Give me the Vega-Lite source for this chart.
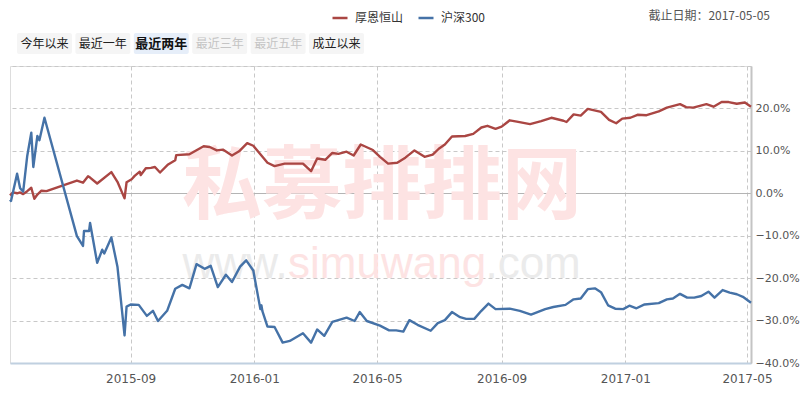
{
  "$schema": "https://vega.github.io/schema/vega-lite/v6.json",
  "padding": {"left": 8, "top": 9, "right": 0, "bottom": 0},
  "background": "white",
  "bounds": "flush",
  "config": {"view": {"stroke": null}, "font": "Noto Sans CJK SC"},
  "spacing": 12,
  "vconcat": [
    {
      "width": 741,
      "height": 21,
      "title": {"text": "截止日期：2017-05-05", "anchor": "end", "frame": "group", "orient": "top", "dx": 19, "offset": 10, "fontSize": 12, "fontWeight": "normal", "color": "#555555", "font": "Noto Sans CJK SC"},
      "data": {"values": [
        {"label": "今年以来", "state": "normal"},
        {"label": "最近一年", "state": "normal"},
        {"label": "最近两年", "state": "active"},
        {"label": "最近三年", "state": "disabled"},
        {"label": "最近五年", "state": "disabled"},
        {"label": "成立以来", "state": "normal"}
      ]},
      "encoding": {
        "x": {"field": "label", "type": "nominal", "sort": null,
              "scale": {"domain": ["今年以来", "最近一年", "最近两年", "最近三年", "最近五年", "成立以来"], "range": [7, 354], "paddingInner": 0.06, "paddingOuter": 0},
              "axis": null}
      },
      "layer": [
        {"transform": [{"filter": "datum.state !== 'active'"}], "mark": {"type": "rect", "color": "#f5f5f5", "cornerRadius": 2}},
        {"transform": [{"filter": "datum.state === 'active'"}], "mark": {"type": "rect", "color": "#e6eef9", "cornerRadius": 2}},
        {"transform": [{"filter": "datum.state === 'normal'"}], "mark": {"type": "text", "color": "#222222", "fontSize": 12, "font": "Noto Sans CJK SC", "baseline": "middle"}, "encoding": {"text": {"field": "label"}}},
        {"transform": [{"filter": "datum.state === 'disabled'"}], "mark": {"type": "text", "color": "#c4c4c4", "fontSize": 12, "font": "Noto Sans CJK SC", "baseline": "middle"}, "encoding": {"text": {"field": "label"}}},
        {"transform": [{"filter": "datum.state === 'active'"}], "mark": {"type": "text", "color": "#111111", "fontSize": 13, "fontWeight": "bold", "font": "Noto Sans CJK SC", "baseline": "middle"}, "encoding": {"text": {"field": "label"}}}
      ]
    },
    {
      "width": 741,
      "height": 297,
      "view": {"stroke": "#dddddd"},
      "layer": [
        {
          "data": {"values": [{}]},
          "mark": {"type": "text", "text": "私募排排网", "font": "Noto Sans CJK SC", "fontWeight": "bold", "fontSize": 80, "color": "#fde3e3", "align": "center", "baseline": "middle"},
          "encoding": {
            "x": {"datum": {"year": 2016, "month": 5, "date": 6, "utc": true}, "type": "temporal", "title": null},
            "y": {"datum": 1.2, "type": "quantitative", "title": null}
          }
        },
        {
          "data": {"values": [{}]},
          "mark": {"type": "text", "text": "www.", "font": "Liberation Sans", "fontSize": 44, "color": "#ebebeb", "align": "right", "baseline": "alphabetic"},
          "encoding": {
            "x": {"datum": {"year": 2016, "month": 2, "date": 3, "utc": true}, "type": "temporal", "title": null},
            "y": {"datum": -20, "type": "quantitative", "title": null}
          }
        },
        {
          "data": {"values": [{}]},
          "mark": {"type": "text", "text": "simuwang", "font": "Liberation Sans", "fontSize": 44, "color": "#fde3e3", "align": "center", "baseline": "alphabetic"},
          "encoding": {
            "x": {"datum": {"year": 2016, "month": 5, "date": 11, "utc": true}, "type": "temporal", "title": null},
            "y": {"datum": -20, "type": "quantitative", "title": null}
          }
        },
        {
          "data": {"values": [{}]},
          "mark": {"type": "text", "text": ".com", "font": "Liberation Sans", "fontSize": 44, "color": "#ebebeb", "align": "left", "baseline": "alphabetic"},
          "encoding": {
            "x": {"datum": {"year": 2016, "month": 8, "date": 16, "utc": true}, "type": "temporal", "title": null},
            "y": {"datum": -20, "type": "quantitative", "title": null}
          }
        },
        {
          "data": {"values": [
            {"date": "2015-05-05", "value": -0.5, "series": "厚恩恒山"},
            {"date": "2015-05-08", "value": 0.2, "series": "厚恩恒山"},
            {"date": "2015-05-12", "value": 0.0, "series": "厚恩恒山"},
            {"date": "2015-05-15", "value": 0.2, "series": "厚恩恒山"},
            {"date": "2015-05-18", "value": -0.2, "series": "厚恩恒山"},
            {"date": "2015-05-22", "value": 0.5, "series": "厚恩恒山"},
            {"date": "2015-05-26", "value": 1.3, "series": "厚恩恒山"},
            {"date": "2015-05-29", "value": -1.3, "series": "厚恩恒山"},
            {"date": "2015-06-01", "value": -0.3, "series": "厚恩恒山"},
            {"date": "2015-06-05", "value": 0.6, "series": "厚恩恒山"},
            {"date": "2015-06-10", "value": 0.5, "series": "厚恩恒山"},
            {"date": "2015-07-10", "value": 3.0, "series": "厚恩恒山"},
            {"date": "2015-07-16", "value": 2.5, "series": "厚恩恒山"},
            {"date": "2015-07-21", "value": 4.0, "series": "厚恩恒山"},
            {"date": "2015-07-23", "value": 3.7, "series": "厚恩恒山"},
            {"date": "2015-07-30", "value": 2.3, "series": "厚恩恒山"},
            {"date": "2015-08-13", "value": 5.0, "series": "厚恩恒山"},
            {"date": "2015-08-19", "value": 2.7, "series": "厚恩恒山"},
            {"date": "2015-08-26", "value": -1.2, "series": "厚恩恒山"},
            {"date": "2015-08-28", "value": 2.6, "series": "厚恩恒山"},
            {"date": "2015-09-02", "value": 3.3, "series": "厚恩恒山"},
            {"date": "2015-09-05", "value": 4.1, "series": "厚恩恒山"},
            {"date": "2015-09-10", "value": 5.1, "series": "厚恩恒山"},
            {"date": "2015-09-11", "value": 4.3, "series": "厚恩恒山"},
            {"date": "2015-09-16", "value": 5.9, "series": "厚恩恒山"},
            {"date": "2015-09-21", "value": 6.0, "series": "厚恩恒山"},
            {"date": "2015-09-25", "value": 6.2, "series": "厚恩恒山"},
            {"date": "2015-09-30", "value": 4.9, "series": "厚恩恒山"},
            {"date": "2015-10-08", "value": 6.8, "series": "厚恩恒山"},
            {"date": "2015-10-15", "value": 7.8, "series": "厚恩恒山"},
            {"date": "2015-10-16", "value": 9.0, "series": "厚恩恒山"},
            {"date": "2015-10-29", "value": 9.2, "series": "厚恩恒山"},
            {"date": "2015-11-12", "value": 11.1, "series": "厚恩恒山"},
            {"date": "2015-11-18", "value": 10.9, "series": "厚恩恒山"},
            {"date": "2015-11-25", "value": 10.1, "series": "厚恩恒山"},
            {"date": "2015-12-01", "value": 10.3, "series": "厚恩恒山"},
            {"date": "2015-12-10", "value": 8.9, "series": "厚恩恒山"},
            {"date": "2015-12-17", "value": 9.9, "series": "厚恩恒山"},
            {"date": "2015-12-25", "value": 11.8, "series": "厚恩恒山"},
            {"date": "2015-12-31", "value": 11.2, "series": "厚恩恒山"},
            {"date": "2016-01-07", "value": 9.2, "series": "厚恩恒山"},
            {"date": "2016-01-14", "value": 7.2, "series": "厚恩恒山"},
            {"date": "2016-01-21", "value": 6.4, "series": "厚恩恒山"},
            {"date": "2016-01-31", "value": 7.0, "series": "厚恩恒山"},
            {"date": "2016-02-18", "value": 7.0, "series": "厚恩恒山"},
            {"date": "2016-02-26", "value": 5.2, "series": "厚恩恒山"},
            {"date": "2016-03-03", "value": 8.2, "series": "厚恩恒山"},
            {"date": "2016-03-11", "value": 7.9, "series": "厚恩恒山"},
            {"date": "2016-03-18", "value": 9.5, "series": "厚恩恒山"},
            {"date": "2016-03-24", "value": 9.3, "series": "厚恩恒山"},
            {"date": "2016-04-01", "value": 9.8, "series": "厚恩恒山"},
            {"date": "2016-04-08", "value": 8.9, "series": "厚恩恒山"},
            {"date": "2016-04-15", "value": 11.5, "series": "厚恩恒山"},
            {"date": "2016-04-27", "value": 10.2, "series": "厚恩恒山"},
            {"date": "2016-05-04", "value": 8.6, "series": "厚恩恒山"},
            {"date": "2016-05-12", "value": 7.0, "series": "厚恩恒山"},
            {"date": "2016-05-21", "value": 7.2, "series": "厚恩恒山"},
            {"date": "2016-05-29", "value": 8.4, "series": "厚恩恒山"},
            {"date": "2016-06-07", "value": 10.1, "series": "厚恩恒山"},
            {"date": "2016-06-17", "value": 8.6, "series": "厚恩恒山"},
            {"date": "2016-06-25", "value": 9.1, "series": "厚恩恒山"},
            {"date": "2016-07-01", "value": 10.5, "series": "厚恩恒山"},
            {"date": "2016-07-07", "value": 11.5, "series": "厚恩恒山"},
            {"date": "2016-07-14", "value": 13.4, "series": "厚恩恒山"},
            {"date": "2016-07-27", "value": 13.5, "series": "厚恩恒山"},
            {"date": "2016-08-04", "value": 14.0, "series": "厚恩恒山"},
            {"date": "2016-08-12", "value": 15.5, "series": "厚恩恒山"},
            {"date": "2016-08-18", "value": 15.9, "series": "厚恩恒山"},
            {"date": "2016-08-26", "value": 15.2, "series": "厚恩恒山"},
            {"date": "2016-09-01", "value": 15.7, "series": "厚恩恒山"},
            {"date": "2016-09-09", "value": 17.2, "series": "厚恩恒山"},
            {"date": "2016-09-16", "value": 16.9, "series": "厚恩恒山"},
            {"date": "2016-09-29", "value": 16.3, "series": "厚恩恒山"},
            {"date": "2016-10-10", "value": 17.0, "series": "厚恩恒山"},
            {"date": "2016-10-20", "value": 17.8, "series": "厚恩恒山"},
            {"date": "2016-11-01", "value": 17.1, "series": "厚恩恒山"},
            {"date": "2016-11-04", "value": 16.8, "series": "厚恩恒山"},
            {"date": "2016-11-11", "value": 18.6, "series": "厚恩恒山"},
            {"date": "2016-11-18", "value": 18.3, "series": "厚恩恒山"},
            {"date": "2016-11-25", "value": 19.9, "series": "厚恩恒山"},
            {"date": "2016-12-08", "value": 19.2, "series": "厚恩恒山"},
            {"date": "2016-12-16", "value": 17.3, "series": "厚恩恒山"},
            {"date": "2016-12-23", "value": 16.5, "series": "厚恩恒山"},
            {"date": "2016-12-29", "value": 17.6, "series": "厚恩恒山"},
            {"date": "2017-01-06", "value": 17.8, "series": "厚恩恒山"},
            {"date": "2017-01-13", "value": 18.5, "series": "厚恩恒山"},
            {"date": "2017-01-22", "value": 18.4, "series": "厚恩恒山"},
            {"date": "2017-02-03", "value": 19.3, "series": "厚恩恒山"},
            {"date": "2017-02-11", "value": 20.2, "series": "厚恩恒山"},
            {"date": "2017-02-24", "value": 21.0, "series": "厚恩恒山"},
            {"date": "2017-03-02", "value": 20.3, "series": "厚恩恒山"},
            {"date": "2017-03-09", "value": 20.2, "series": "厚恩恒山"},
            {"date": "2017-03-22", "value": 21.0, "series": "厚恩恒山"},
            {"date": "2017-03-29", "value": 20.4, "series": "厚恩恒山"},
            {"date": "2017-04-06", "value": 21.5, "series": "厚恩恒山"},
            {"date": "2017-04-13", "value": 21.5, "series": "厚恩恒山"},
            {"date": "2017-04-21", "value": 21.1, "series": "厚恩恒山"},
            {"date": "2017-04-29", "value": 21.4, "series": "厚恩恒山"},
            {"date": "2017-05-05", "value": 20.4, "series": "厚恩恒山"},
            {"date": "2015-05-05", "value": -1.5, "series": "沪深300"},
            {"date": "2015-05-06", "value": -1.8, "series": "沪深300"},
            {"date": "2015-05-12", "value": 4.6, "series": "沪深300"},
            {"date": "2015-05-15", "value": 1.2, "series": "沪深300"},
            {"date": "2015-05-18", "value": 0.4, "series": "沪深300"},
            {"date": "2015-05-22", "value": 8.8, "series": "沪深300"},
            {"date": "2015-05-26", "value": 14.3, "series": "沪深300"},
            {"date": "2015-05-28", "value": 6.2, "series": "沪深300"},
            {"date": "2015-06-01", "value": 13.5, "series": "沪深300"},
            {"date": "2015-06-03", "value": 12.5, "series": "沪深300"},
            {"date": "2015-06-08", "value": 17.8, "series": "沪深300"},
            {"date": "2015-07-10", "value": -10.1, "series": "沪深300"},
            {"date": "2015-07-16", "value": -12.4, "series": "沪深300"},
            {"date": "2015-07-17", "value": -8.9, "series": "沪深300"},
            {"date": "2015-07-22", "value": -8.9, "series": "沪深300"},
            {"date": "2015-07-23", "value": -7.0, "series": "沪深300"},
            {"date": "2015-07-30", "value": -16.4, "series": "沪深300"},
            {"date": "2015-08-04", "value": -13.3, "series": "沪深300"},
            {"date": "2015-08-06", "value": -14.2, "series": "沪深300"},
            {"date": "2015-08-13", "value": -10.4, "series": "沪深300"},
            {"date": "2015-08-19", "value": -17.3, "series": "沪深300"},
            {"date": "2015-08-26", "value": -33.5, "series": "沪深300"},
            {"date": "2015-08-28", "value": -26.7, "series": "沪深300"},
            {"date": "2015-09-01", "value": -26.2, "series": "沪深300"},
            {"date": "2015-09-09", "value": -26.3, "series": "沪深300"},
            {"date": "2015-09-17", "value": -28.9, "series": "沪深300"},
            {"date": "2015-09-23", "value": -27.7, "series": "沪深300"},
            {"date": "2015-09-28", "value": -30.1, "series": "沪深300"},
            {"date": "2015-10-07", "value": -27.7, "series": "沪深300"},
            {"date": "2015-10-15", "value": -22.5, "series": "沪深300"},
            {"date": "2015-10-22", "value": -21.6, "series": "沪深300"},
            {"date": "2015-10-29", "value": -22.4, "series": "沪深300"},
            {"date": "2015-11-05", "value": -16.7, "series": "沪深300"},
            {"date": "2015-11-13", "value": -17.8, "series": "沪深300"},
            {"date": "2015-11-19", "value": -17.1, "series": "沪深300"},
            {"date": "2015-11-26", "value": -22.1, "series": "沪深300"},
            {"date": "2015-12-04", "value": -19.2, "series": "沪深300"},
            {"date": "2015-12-10", "value": -20.9, "series": "沪深300"},
            {"date": "2015-12-18", "value": -17.3, "series": "沪深300"},
            {"date": "2015-12-24", "value": -15.8, "series": "沪深300"},
            {"date": "2015-12-31", "value": -18.2, "series": "沪深300"},
            {"date": "2016-01-07", "value": -27.3, "series": "沪深300"},
            {"date": "2016-01-08", "value": -26.4, "series": "沪深300"},
            {"date": "2016-01-09", "value": -27.8, "series": "沪深300"},
            {"date": "2016-01-14", "value": -31.4, "series": "沪深300"},
            {"date": "2016-01-21", "value": -31.5, "series": "沪深300"},
            {"date": "2016-01-29", "value": -35.2, "series": "沪深300"},
            {"date": "2016-02-05", "value": -34.8, "series": "沪深300"},
            {"date": "2016-02-18", "value": -33.0, "series": "沪深300"},
            {"date": "2016-02-26", "value": -35.2, "series": "沪深300"},
            {"date": "2016-03-03", "value": -32.1, "series": "沪深300"},
            {"date": "2016-03-10", "value": -33.6, "series": "沪深300"},
            {"date": "2016-03-18", "value": -30.3, "series": "沪深300"},
            {"date": "2016-04-01", "value": -29.3, "series": "沪深300"},
            {"date": "2016-04-09", "value": -30.1, "series": "沪深300"},
            {"date": "2016-04-14", "value": -28.0, "series": "沪深300"},
            {"date": "2016-04-21", "value": -30.1, "series": "沪深300"},
            {"date": "2016-05-04", "value": -31.2, "series": "沪深300"},
            {"date": "2016-05-13", "value": -32.3, "series": "沪深300"},
            {"date": "2016-05-20", "value": -32.3, "series": "沪深300"},
            {"date": "2016-05-27", "value": -32.6, "series": "沪深300"},
            {"date": "2016-06-02", "value": -29.9, "series": "沪深300"},
            {"date": "2016-06-10", "value": -31.0, "series": "沪深300"},
            {"date": "2016-06-23", "value": -32.4, "series": "沪深300"},
            {"date": "2016-06-30", "value": -30.6, "series": "沪深300"},
            {"date": "2016-07-07", "value": -29.9, "series": "沪深300"},
            {"date": "2016-07-14", "value": -28.0, "series": "沪深300"},
            {"date": "2016-07-22", "value": -29.2, "series": "沪深300"},
            {"date": "2016-07-28", "value": -29.6, "series": "沪深300"},
            {"date": "2016-08-05", "value": -29.6, "series": "沪深300"},
            {"date": "2016-08-12", "value": -27.7, "series": "沪深300"},
            {"date": "2016-08-19", "value": -26.0, "series": "沪深300"},
            {"date": "2016-08-26", "value": -27.3, "series": "沪深300"},
            {"date": "2016-09-09", "value": -27.2, "series": "沪深300"},
            {"date": "2016-09-19", "value": -27.7, "series": "沪深300"},
            {"date": "2016-09-30", "value": -28.6, "series": "沪深300"},
            {"date": "2016-10-14", "value": -27.3, "series": "沪深300"},
            {"date": "2016-10-22", "value": -26.8, "series": "沪深300"},
            {"date": "2016-11-03", "value": -26.3, "series": "沪深300"},
            {"date": "2016-11-11", "value": -25.0, "series": "沪深300"},
            {"date": "2016-11-18", "value": -24.8, "series": "沪深300"},
            {"date": "2016-11-25", "value": -22.6, "series": "沪深300"},
            {"date": "2016-12-02", "value": -22.4, "series": "沪深300"},
            {"date": "2016-12-08", "value": -23.3, "series": "沪深300"},
            {"date": "2016-12-15", "value": -26.4, "series": "沪深300"},
            {"date": "2016-12-22", "value": -27.2, "series": "沪深300"},
            {"date": "2016-12-30", "value": -27.3, "series": "沪深300"},
            {"date": "2017-01-05", "value": -26.5, "series": "沪深300"},
            {"date": "2017-01-12", "value": -27.1, "series": "沪深300"},
            {"date": "2017-01-20", "value": -26.2, "series": "沪深300"},
            {"date": "2017-02-03", "value": -25.9, "series": "沪深300"},
            {"date": "2017-02-11", "value": -25.0, "series": "沪深300"},
            {"date": "2017-02-17", "value": -24.8, "series": "沪深300"},
            {"date": "2017-02-24", "value": -23.7, "series": "沪深300"},
            {"date": "2017-03-03", "value": -24.6, "series": "沪深300"},
            {"date": "2017-03-10", "value": -24.6, "series": "沪深300"},
            {"date": "2017-03-17", "value": -24.2, "series": "沪深300"},
            {"date": "2017-03-24", "value": -23.2, "series": "沪深300"},
            {"date": "2017-03-30", "value": -24.6, "series": "沪深300"},
            {"date": "2017-04-07", "value": -22.8, "series": "沪深300"},
            {"date": "2017-04-14", "value": -23.4, "series": "沪深300"},
            {"date": "2017-04-21", "value": -23.8, "series": "沪深300"},
            {"date": "2017-04-27", "value": -24.4, "series": "沪深300"},
            {"date": "2017-05-05", "value": -25.8, "series": "沪深300"}
          ]},
          "mark": {"type": "line", "strokeWidth": 2.4, "strokeJoin": "round"},
          "encoding": {
            "x": {"field": "date", "type": "temporal", "title": null,
                  "scale": {"type": "utc", "domain": [{"year": 2015, "month": 5, "date": 5, "utc": true}, {"year": 2017, "month": 5, "date": 5, "utc": true}]},
                  "axis": {
                    "values": [
                      {"year": 2015, "month": 9, "date": 1, "utc": true},
                      {"year": 2016, "month": 1, "date": 1, "utc": true},
                      {"year": 2016, "month": 5, "date": 1, "utc": true},
                      {"year": 2016, "month": 9, "date": 1, "utc": true},
                      {"year": 2017, "month": 1, "date": 1, "utc": true},
                      {"year": 2017, "month": 5, "date": 1, "utc": true}
                    ],
                    "format": "%Y-%m",
                    "labelFont": "DejaVu Sans", "labelFontSize": 12, "labelColor": "#555555",
                    "ticks": false, "labelPadding": 10,
                    "domainColor": "#C0D0E0", "domainWidth": 2,
                    "grid": true, "gridColor": "#c8c8c8", "gridDash": [4, 3],
                    "labelFlush": false, "labelOverlap": false
                  }},
            "y": {"field": "value", "type": "quantitative", "title": null,
                  "scale": {"domain": [-40, 30], "nice": false, "zero": false},
                  "axis": {
                    "orient": "right",
                    "values": [-40, -30, -20, -10, 0, 10, 20, 30],
                    "labelExpr": "datum.value === 30 ? '' : format(datum.value, '.1f') + '%'",
                    "labelFont": "DejaVu Sans", "labelFontSize": 11, "labelColor": "#555555",
                    "labelAlign": "left", "labelBaseline": "middle", "labelPadding": 4,
                    "ticks": false, "domain": true, "domainColor": "#c4c4c4", "domainWidth": 2,
                    "grid": true,
                    "gridColor": {"condition": {"test": "datum.value === 0", "value": "#b4b4b4"}, "value": "#c8c8c8"},
                    "gridDash": {"condition": {"test": "datum.value === 0", "value": []}, "value": [4, 3]},
                    "labelFlush": false, "labelOverlap": false
                  }},
            "color": {"field": "series", "type": "nominal",
                      "scale": {"domain": ["厚恩恒山", "沪深300"], "range": ["#AA4643", "#4572A7"]},
                      "legend": {"orient": "none", "legendX": 321, "legendY": -24, "direction": "horizontal", "title": null,
                                 "symbolType": "stroke", "symbolStrokeWidth": 2.5, "symbolSize": 225,
                                 "labelFontSize": 12, "labelFont": "Noto Sans CJK SC", "labelColor": "#333333",
                                 "columnPadding": 9, "labelOffset": 6}}
          }
        }
      ]
    }
  ]
}
